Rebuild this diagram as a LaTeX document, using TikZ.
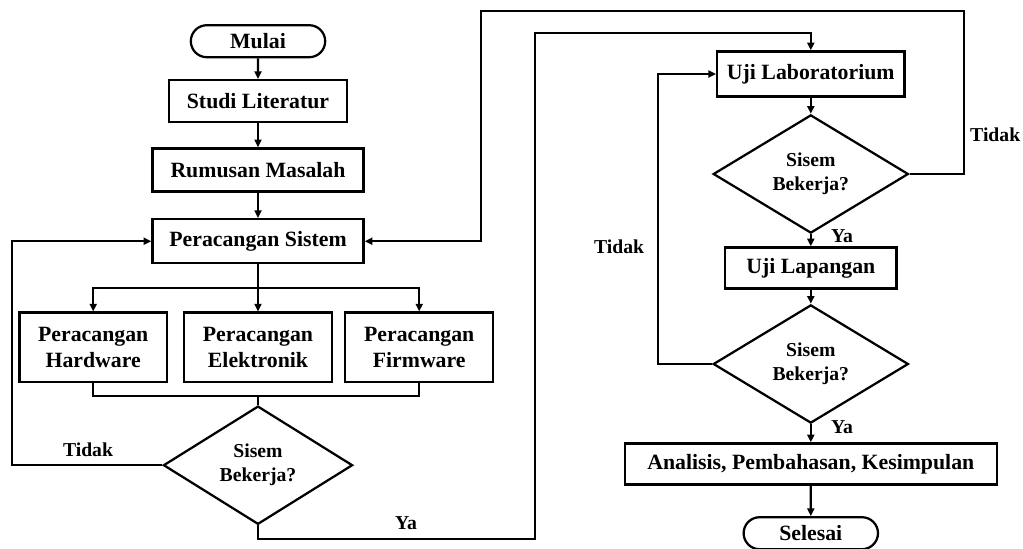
\documentclass[tikz,border=0pt]{standalone}
\usepackage{fontspec}
\setmainfont{Liberation Serif}
\usetikzlibrary{positioning,shapes.geometric,shapes.misc,arrows.meta}
\newcommand{\boxfont}{\fontsize{15.5}{18.5}\bfseries\selectfont}
\newcommand{\labfont}{\fontsize{14}{17}\bfseries\selectfont}
\tikzset{
  procbox/.style={rectangle,draw,line width=1.6pt,inner sep=2pt,align=center,font=\boxfont},
  termbox/.style={rounded rectangle,draw,line width=1.6pt,inner sep=2pt,font=\boxfont,
    minimum width=3.5cm,minimum height=0.8cm},
  decision/.style={diamond,draw,line width=1.6pt,inner sep=0pt,align=center,font=\labfont},
  flow/.style={-{Triangle[length=5.5pt,width=5pt]},line width=1.6pt},
  wire/.style={line width=1.6pt},
  answer/.style={font=\labfont}
}

\begin{document}
\begin{tikzpicture}

\useasboundingbox (0,0) rectangle (25.575,-13.7);

% Left column: design stage
\node[termbox] (mulai) at (6.45,-1.03) {Mulai};
\node[procbox,minimum width=4.45cm,minimum height=1.05cm] (studi) at (6.45,-2.53) {Studi Literatur};
\node[procbox,minimum width=5.28cm,minimum height=1.08cm] (rumusan) at (6.45,-4.25) {Rumusan Masalah};
\node[procbox,minimum width=5.28cm,minimum height=1.1cm] (sistem) at (6.45,-6.03) {Peracangan Sistem};

\node[procbox,minimum width=3.68cm,minimum height=1.73cm] (hw) at (2.33,-8.68) {Peracangan\\Hardware};
\node[procbox,minimum width=3.7cm,minimum height=1.73cm] (el) at (6.45,-8.68) {Peracangan\\Elektronik};
\node[procbox,minimum width=3.7cm,minimum height=1.73cm] (fw) at (10.48,-8.68) {Peracangan\\Firmware};

\node[decision,minimum width=4.73cm,minimum height=2.68cm] (cek1) at (6.45,-11.63) {Sisem\\Bekerja?};

% Right column: testing stage
\node[procbox,minimum width=4.68cm,minimum height=1.13cm] (lab) at (20.27,-1.85) {Uji Laboratorium};
\node[decision,minimum width=4.88cm,minimum height=2.53cm] (cek2) at (20.27,-4.35) {Sisem\\Bekerja?};
\node[procbox,minimum width=4.28cm,minimum height=1.03cm] (lap) at (20.27,-6.7) {Uji Lapangan};
\node[decision,minimum width=4.88cm,minimum height=2.58cm] (cek3) at (20.27,-9.1) {Sisem\\Bekerja?};
\node[procbox,minimum width=9.3cm,minimum height=1.03cm] (anal) at (20.27,-11.6) {Analisis, Pembahasan, Kesimpulan};
\node[termbox] (selesai) at (20.27,-13.33) {Selesai};

% Helper points for the routed lines
\coordinate (split) at (6.45,-7.2);
\coordinate (join) at (6.45,-9.9);
\coordinate (loopL) at (0.3,-6.03);
\coordinate (ya1a) at (13.38,-13.48);
\coordinate (ya1b) at (13.38,-0.83);
\coordinate (tdkR) at (24.1,-0.28);
\coordinate (tdkL) at (12.03,-0.28);
\coordinate (loopR) at (16.45,-1.85);

% Straight flow
\foreach \i/\j in {mulai/studi,studi/rumusan,rumusan/sistem,
  lab/cek2,cek2/lap,lap/cek3,cek3/anal,anal/selesai}
{
  \draw[flow] (\i) -- (\j);
}

% Branch and merge
\draw[wire] (sistem) -- (split);
\draw[flow] (split) -| (hw);
\draw[flow] (split) -- (el);
\draw[flow] (split) -| (fw);
\draw[wire] (hw.south) |- (join) -| (fw.south);
\draw[wire] (join) -- (cek1.north);

% Loops back
\draw[flow] (cek1.west) -| (loopL) -- (sistem.west);
\draw[flow] (cek1.south) |- (ya1a) -- (ya1b) -| (lab.north);
\draw[flow] (cek2.east) -| (tdkR) -- (tdkL) |- (sistem.east);
\draw[flow] (cek3.west) -| (loopR) -- (lab.west);

% Labels
\node[answer] (t1) at (2.2,-11.25) {Tidak};
\node[answer] (y1) at (10.15,-13.08) {Ya};
\node[answer] (t2) at (24.88,-3.38) {Tidak};
\node[answer] (y2) at (21.05,-5.9) {Ya};
\node[answer] (t3) at (15.48,-6.18) {Tidak};
\node[answer] (y3) at (21.05,-10.68) {Ya};

\end{tikzpicture}
\end{document}
